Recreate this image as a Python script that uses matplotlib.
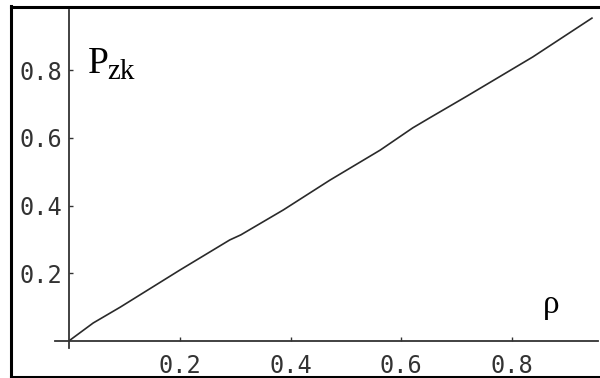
import matplotlib
matplotlib.use("Agg")
import matplotlib.pyplot as plt
from matplotlib.lines import Line2D

# sampled curve P_zk(rho)
rho = [0.0, 0.043, 0.092, 0.20, 0.29, 0.31, 0.387, 0.471, 0.562, 0.621, 0.652, 0.719, 0.838, 0.945]
p_zk = [0.0, 0.052, 0.099, 0.209, 0.298, 0.313, 0.387, 0.475, 0.564, 0.630, 0.660, 0.724, 0.840, 0.955]

xticks = [0.2, 0.4, 0.6, 0.8]
yticks = [0.2, 0.4, 0.6, 0.8]

fig = plt.figure(figsize=(6, 3.78), dpi=100)
ax = fig.add_axes([0.0917, 0.0794, 0.905, 0.8941])

ax.plot(rho, p_zk, color="#2a2a2a", lw=1.2)

ax.set_xlim(-0.026, 0.956)
ax.set_ylim(-0.022, 0.979)

# axes crossing at the origin
for side in ("top", "right"):
    ax.spines[side].set_visible(False)
ax.spines["left"].set_position(("data", 0))
ax.spines["bottom"].set_position(("data", 0))
for side in ("left", "bottom"):
    ax.spines[side].set_color("#333333")
    ax.spines[side].set_linewidth(1.3)

ax.set_xticks(xticks)
ax.set_yticks(yticks)
ax.set_xticklabels([f"{t:.1f}" for t in xticks])
ax.set_yticklabels([f"{t:.1f}" for t in yticks])
ax.tick_params(axis="both", direction="in", length=3, width=1, color="#333333",
               labelsize=17, labelcolor="#333333")
ax.tick_params(axis="x", pad=10)
ax.tick_params(axis="y", pad=5)
for lab in ax.get_xticklabels() + ax.get_yticklabels():
    lab.set_family("DejaVu Sans Mono")

# axis labels
ax.text(0.034, 0.793, "P", family="Liberation Serif", fontsize=27, ha="left", va="baseline")
ax.text(0.068, 0.776, "zk", family="Liberation Serif", fontsize=21, ha="left", va="baseline")
ax.text(0.857, 0.081, "ρ", family="Liberation Serif", fontsize=24, ha="left", va="baseline")

# outer frame
W, H = 600, 378
frame = dict(color="black", lw=2.2, transform=fig.transFigure)
fig.add_artist(Line2D([11 / W, 11 / W], [0, 1 - 6 / H], **frame))
fig.add_artist(Line2D([11 / W, 1.01], [1 - 7 / H, 1 - 7 / H], **frame))
fig.add_artist(Line2D([11 / W, 1.01], [1.5 / H, 1.5 / H], **frame))

fig.savefig("out.png", dpi=100)
